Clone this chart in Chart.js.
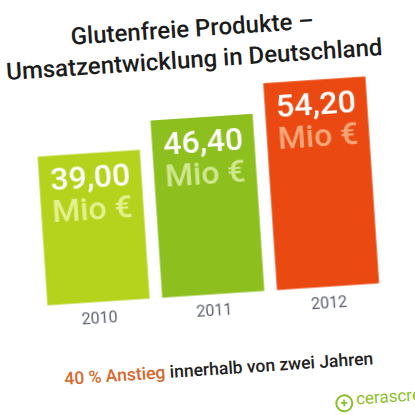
<!DOCTYPE html>
<html>
<head>
<meta charset="utf-8">
<script src="https://cdn.jsdelivr.net/npm/chart.js@4.4.1/dist/chart.umd.min.js"></script>
<style>
  html, body { margin: 0; padding: 0; background: #fff; overflow: hidden; }
  #page {
    position: relative; width: 415px; height: 415px;
    transform: rotate(-3.8deg); transform-origin: 207px 207px;
    font-family: Roboto, "DejaVu Sans", sans-serif;
  }
  #title {
    position: absolute; left: 0; width: 408px; top: 13px;
    text-align: center; color: #1c1c1c; font-size: 24px; font-weight: 500;
    line-height: 31px;
  }
  #box { position: absolute; left: 0; top: 0; width: 415px; height: 330px; }
  #note {
    position: absolute; left: 0; width: 416px; top: 359px;
    text-align: center; font-size: 17.5px; font-weight: 500; color: #222;
  }
  #note span { color: #d8672b; }
  #logo {
    position: absolute; left: 322px; top: 398px; color: #8cbf2a;
    font-size: 17px; white-space: nowrap;
  }
  #logo b {
    display: inline-block; width: 14px; height: 14px; border: 2px solid #8cbf2a;
    border-radius: 50%; text-align: center; line-height: 14px; font-size: 13px;
    vertical-align: -2px; margin-right: 3px;
  }
</style>
</head>
<body>
<div id="page">
  <div id="title">Glutenfreie Produkte –<br>Umsatzentwicklung in Deutschland</div>
  <div id="box"><canvas id="myChart"></canvas></div>
  <div id="note"><span>40 % Anstieg</span> innerhalb von zwei Jahren</div>
  <div id="logo"><b>+</b>cerascreen</div>
</div>
<script>
var years = ["2010", "2011", "2012"];
var umsatz = [39.00, 46.40, 54.20];
var unit = "Mio €";
var barColors = ["#b5d31c", "#8dc01f", "#ea4a12"];
var unitColors = ["#e4f08e", "#d0e790", "#f8a678"];

var ctx = document.getElementById("myChart");

// Beschriftung in den Balken
var barLabels = {
  id: 'barLabels',
  afterDatasetsDraw: function(chart) {
    var c = chart.ctx;
    var meta = chart.getDatasetMeta(0);
    c.save();
    c.textAlign = 'center';
    c.textBaseline = 'middle';
    c.font = '500 32px Roboto, sans-serif';
    meta.data.forEach(function(bar, i) {
      c.fillStyle = '#ffffff';
      c.fillText(umsatz[i].toFixed(2).replace('.', ','), bar.x, bar.y + 27);
      c.fillStyle = unitColors[i];
      c.fillText(unit, bar.x, bar.y + 59);
    });
    c.restore();
  }
};

var data = {
  labels: years,
  datasets: [{
    data: umsatz,
    backgroundColor: barColors,
    borderWidth: 0,
    barPercentage: 0.89,
    categoryPercentage: 1
  }]
};

var options = {
  responsive: true,
  maintainAspectRatio: false,
  animation: false,
  layout: { padding: { top: 65, left: 35, right: 35, bottom: 0 } },
  plugins: { legend: { display: false }, tooltip: { enabled: false } },
  scales: {
    x: {
      grid: { display: false, drawTicks: false },
      border: { display: false },
      ticks: { color: '#5b6070', padding: 8, font: { family: 'Roboto', size: 16 } }
    },
    y: { display: false, min: 0, max: 60 }
  }
};

new Chart(ctx, { type: 'bar', data: data, options: options, plugins: [barLabels] });
</script>
</body>
</html>
